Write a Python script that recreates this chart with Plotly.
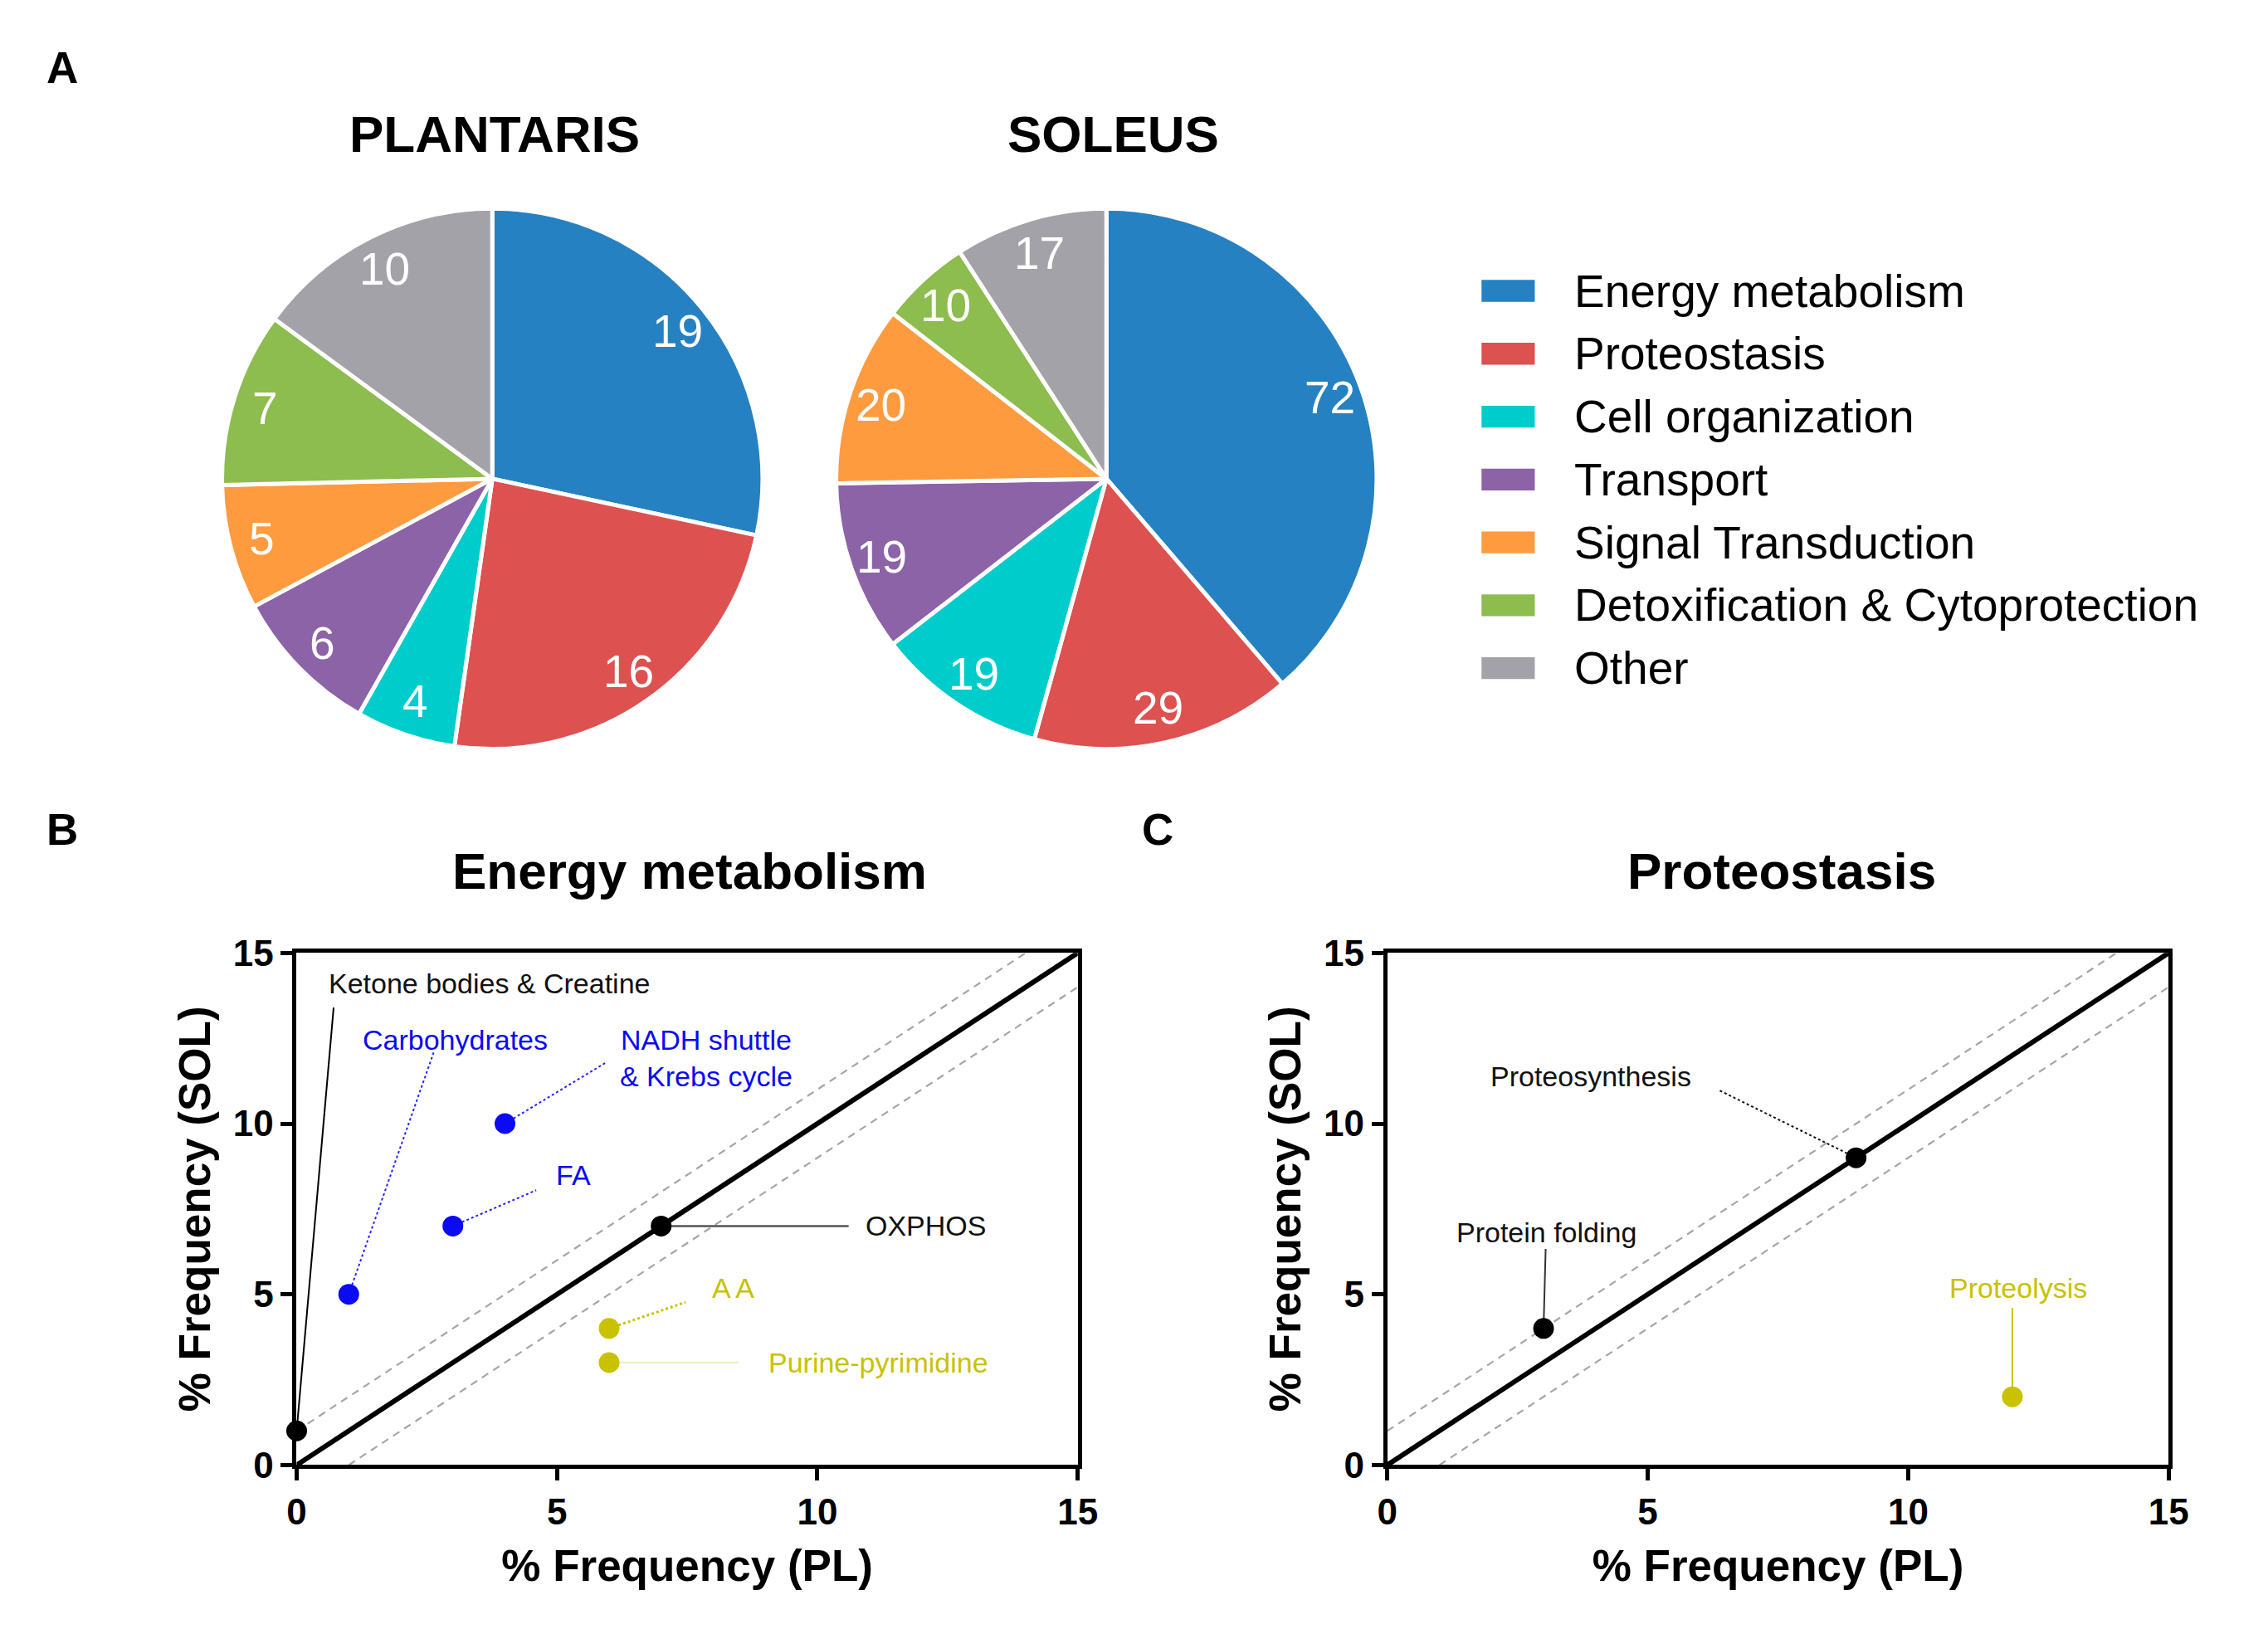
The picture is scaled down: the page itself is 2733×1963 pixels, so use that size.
import math
import plotly.graph_objects as go

# ---------------- data ----------------
categories = ["Energy metabolism", "Proteostasis", "Cell organization", "Transport",
              "Signal Transduction", "Detoxification & Cytoprotection", "Other"]
plantaris_counts = [19, 16, 4, 6, 5, 7, 10]
soleus_counts = [72, 29, 19, 19, 20, 10, 17]
cat_colors = ["#2681C2", "#DD5151", "#00CCCC", "#8B63A6", "#FF9B3F", "#8DBC4F", "#A3A2A8"]

# Panel B: Energy metabolism
em_names = ["Ketone bodies & Creatine", "Carbohydrates", "NADH shuttle<br>& Krebs cycle",
            "FA", "OXPHOS", "A A", "Purine-pyrimidine"]
em_pl = [0, 1, 4, 3, 7, 6, 6]
em_sol = [1, 5, 10, 7, 7, 4, 3]
em_colors = ["#000000", "#0A0AF5", "#0A0AF5", "#0A0AF5", "#000000", "#C8C200", "#C8C200"]
em_label_x = [0.575, 1.23, 7.86, 5.32, 10.89, 7.94, 9.03]
em_label_y = [14.1, 12.45, 11.92, 8.5, 7.0, 5.18, 3.0]
em_label_anchor = ["left", "left", "center", "center", "left", "left", "left"]
em_leader_x = [0.71, 2.63, 5.94, 4.6, 10.6, 7.47, 8.49]
em_leader_y = [13.4, 12.08, 11.79, 8.05, 7.0, 4.77, 3.0]
em_leader_color = ["#000000", "#2222FF", "#2222FF", "#2222FF", "#555555", "#C8C200", "#EEEEC0"]
em_leader_dash = ["solid", "dot", "dot", "dot", "solid", "dot", "solid"]
em_leader_width = [2, 2, 2, 2, 2.5, 3, 2]

# Panel C: Proteostasis
pr_names = ["Protein folding", "Proteosynthesis", "Proteolysis"]
pr_pl = [3, 9, 12]
pr_sol = [4, 9, 2]
pr_colors = ["#000000", "#000000", "#C8C200"]
pr_label_x = [1.29, 1.94, 10.76]
pr_label_y = [6.82, 11.38, 5.18]
pr_leader_x = [3.04, 6.38, 12.0]
pr_leader_y = [6.33, 10.97, 4.6]
pr_leader_color = ["#333333", "#111111", "#C8C200"]
pr_leader_dash = ["solid", "dot", "solid"]

axis_ticks = [0, 5, 10, 15]
axis_max = 15
band_offsets = [1, -1]

FONT = "Liberation Sans, Arial, Helvetica, sans-serif"
W, H = 2733, 1963

fig = go.Figure()

# ---------------- pies ----------------
pie_domains = [dict(x=[0.0933, 0.3377], y=[0.5415, 0.8818]),
               dict(x=[0.3677, 0.6121], y=[0.5415, 0.8818])]
pie_values = [plantaris_counts, soleus_counts]
label_radius_frac = 0.87

for vals, dom in zip(pie_values, pie_domains):
    fig.add_trace(go.Pie(
        values=vals, labels=categories, sort=False, direction="clockwise", rotation=0,
        domain=dom, marker=dict(colors=cat_colors, line=dict(color="white", width=5)),
        textinfo="none", showlegend=False, hoverinfo="label+value"))
    # value labels placed towards the rim, at each slice's mid-angle
    cx = (dom["x"][0] + dom["x"][1]) / 2
    cy = (dom["y"][0] + dom["y"][1]) / 2
    R = min((dom["x"][1] - dom["x"][0]) * W, (dom["y"][1] - dom["y"][0]) * H) / 2
    total = float(sum(vals))
    cum = 0.0
    for v in vals:
        theta = (cum + v / 2) / total * 2 * math.pi
        cum += v
        rx = label_radius_frac * R * math.sin(theta)
        ry = label_radius_frac * R * math.cos(theta)
        fig.add_annotation(x=cx + rx / W, y=cy + ry / H, xref="paper", yref="paper",
                           text=str(v), showarrow=False, xanchor="center", yanchor="middle",
                           font=dict(family=FONT, size=55, color="white"))

# ---------------- scatter panels ----------------
def add_panel(xa, ya, pl, sol, colors, names, lx, ly, anchors, ldx, ldy, lcol, ldash, lwid):
    for off in band_offsets:
        xs = [max(0, -off), min(axis_max, axis_max - off)]
        fig.add_trace(go.Scatter(x=xs, y=[v + off for v in xs], mode="lines",
                                 line=dict(color="#A6A6A6", width=2.2, dash="9px,7px"),
                                 xaxis=xa, yaxis=ya, showlegend=False, hoverinfo="skip"))
    fig.add_trace(go.Scatter(x=[0, axis_max], y=[0, axis_max], mode="lines",
                             line=dict(color="black", width=6), xaxis=xa, yaxis=ya,
                             showlegend=False, hoverinfo="skip"))
    for i in range(len(pl)):
        fig.add_trace(go.Scatter(x=[pl[i], ldx[i]], y=[sol[i], ldy[i]], mode="lines",
                                 line=dict(color=lcol[i], width=lwid[i], dash=ldash[i]),
                                 xaxis=xa, yaxis=ya, showlegend=False, hoverinfo="skip"))
    fig.add_trace(go.Scatter(x=pl, y=sol, mode="markers", text=[n.replace("<br>", " ") for n in names],
                             marker=dict(color=colors, size=25), xaxis=xa, yaxis=ya,
                             cliponaxis=False, showlegend=False, hoverinfo="text+x+y"))
    for i in range(len(pl)):
        fig.add_annotation(x=lx[i], y=ly[i], xref=xa, yref=ya, text=names[i], showarrow=False,
                           xanchor=anchors[i], yanchor="middle", align="center",
                           font=dict(family=FONT, size=34,
                                     color=colors[i] if colors[i] != "#000000" else "#111111"))

add_panel("x", "y", em_pl, em_sol, em_colors, em_names, em_label_x, em_label_y, em_label_anchor,
          em_leader_x, em_leader_y, em_leader_color, em_leader_dash, em_leader_width)
add_panel("x2", "y2", pr_pl, pr_sol, pr_colors, pr_names, pr_label_x, pr_label_y,
          ["left"] * 3, pr_leader_x, pr_leader_y, pr_leader_color, pr_leader_dash, [2, 2, 2])

axis_style = dict(range=[0, axis_max], tickvals=axis_ticks, ticks="outside", ticklen=14,
                  tickwidth=5, tickcolor="black", showline=True, linewidth=5, linecolor="black",
                  mirror=True, showgrid=False, zeroline=False,
                  tickfont=dict(family=FONT, size=44, color="black", weight="bold"))
xt = dict(text="% Frequency (PL)", font=dict(family=FONT, size=53, color="black", weight="bold"),
          standoff=24)
yt = dict(text="% Frequency (SOL)", font=dict(family=FONT, size=53, color="black", weight="bold"),
          standoff=12)

fig.update_layout(
    width=W, height=H, margin=dict(l=0, r=0, t=0, b=0),
    paper_bgcolor="white", plot_bgcolor="white",
    xaxis=dict(domain=[0.1281, 0.4771], anchor="y", title=xt, **axis_style),
    yaxis=dict(domain=[0.0907, 0.4131], anchor="x", title=yt, **axis_style),
    xaxis2=dict(domain=[0.6154, 0.9645], anchor="y2", title=xt, **axis_style),
    yaxis2=dict(domain=[0.0907, 0.4131], anchor="x2", title=yt, **axis_style),
)

# ---------------- titles and panel letters ----------------
texts = [
    ("A", 0.0154, 0.9705, "left", 53), ("B", 0.0154, 0.4906, "left", 53), ("C", 0.505, 0.4906, "left", 53),
    ("PLANTARIS", 0.2167, 0.9286, "center", 62), ("SOLEUS", 0.493, 0.9286, "center", 62),
    ("Energy metabolism", 0.3035, 0.4645, "center", 62), ("Proteostasis", 0.7915, 0.4645, "center", 62),
]
for t, x, y, xa, s in texts:
    fig.add_annotation(x=x, y=y, xref="paper", yref="paper", text="<b>%s</b>" % t, showarrow=False,
                       xanchor=xa, yanchor="middle", font=dict(family=FONT, size=s, color="black"))

# ---------------- legend (wide swatches) ----------------
leg_x0, leg_x1, leg_text_x = 0.6575, 0.6813, 0.6981
leg_y_top, leg_step, leg_half = 0.8299, 0.03958, 0.0069
for i, (cat, col) in enumerate(zip(categories, cat_colors)):
    yc = leg_y_top - i * leg_step
    fig.add_shape(type="rect", xref="paper", yref="paper", x0=leg_x0, x1=leg_x1,
                  y0=yc - leg_half, y1=yc + leg_half, fillcolor=col, line=dict(width=0))
    fig.add_annotation(x=leg_text_x, y=yc, xref="paper", yref="paper", text=cat, showarrow=False,
                       xanchor="left", yanchor="middle", font=dict(family=FONT, size=55, color="black"))

fig.write_html("out.html", config={"displayModeBar": False},
               post_script="document.body.style.margin='0px';document.body.style.overflow='hidden';")
